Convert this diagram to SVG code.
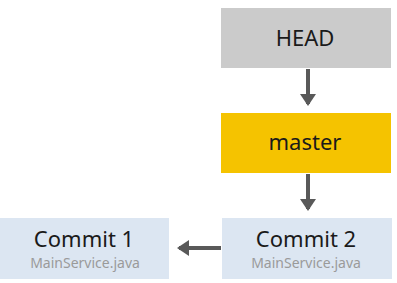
<svg xmlns="http://www.w3.org/2000/svg" width="397" height="283" viewBox="0 0 397 283">
<style>
.t{font-family:"Noto Sans","Open Sans",sans-serif;fill:#1a1a1a;text-anchor:middle;font-size:22px}
.s{font-family:"Noto Sans","Open Sans",sans-serif;fill:#9a9a9a;text-anchor:middle;font-size:14px}
.c{stroke:#595959;stroke-width:4;fill:none}
</style>
<defs>
<marker id="a" markerWidth="4" markerHeight="4" refX="2.5" refY="2" orient="auto" markerUnits="strokeWidth">
<path d="M0,0 L3,2 L0,4 Z" fill="#595959"/>
</marker>
</defs>
<rect width="397" height="283" fill="#ffffff"/>
<g id="head"><rect x="221" y="8" width="170" height="60" fill="#cbcbcb"/><text class="t" x="305" y="46">HEAD</text></g>
<g id="master"><rect x="221" y="113" width="170" height="60" fill="#f5c300"/><text class="t" x="305" y="150">master</text></g>
<g id="commit2"><rect x="222" y="218" width="170" height="61" fill="#dce6f2"/><text class="t" x="306" y="247" font-size="21">Commit 2</text><text class="s" x="306" y="268">MainService.java</text></g>
<g id="commit1"><rect x="0" y="218" width="169" height="61" fill="#dce6f2"/><text class="t" x="84" y="247" font-size="21">Commit 1</text><text class="s" x="85" y="268">MainService.java</text></g>
<g id="connectors">
<line class="c" x1="308" y1="69" x2="308" y2="104" marker-end="url(#a)"/>
<line class="c" x1="308" y1="174" x2="308" y2="209" marker-end="url(#a)"/>
<line class="c" x1="221" y1="248" x2="179" y2="248" marker-end="url(#a)"/>
</g>
</svg>
